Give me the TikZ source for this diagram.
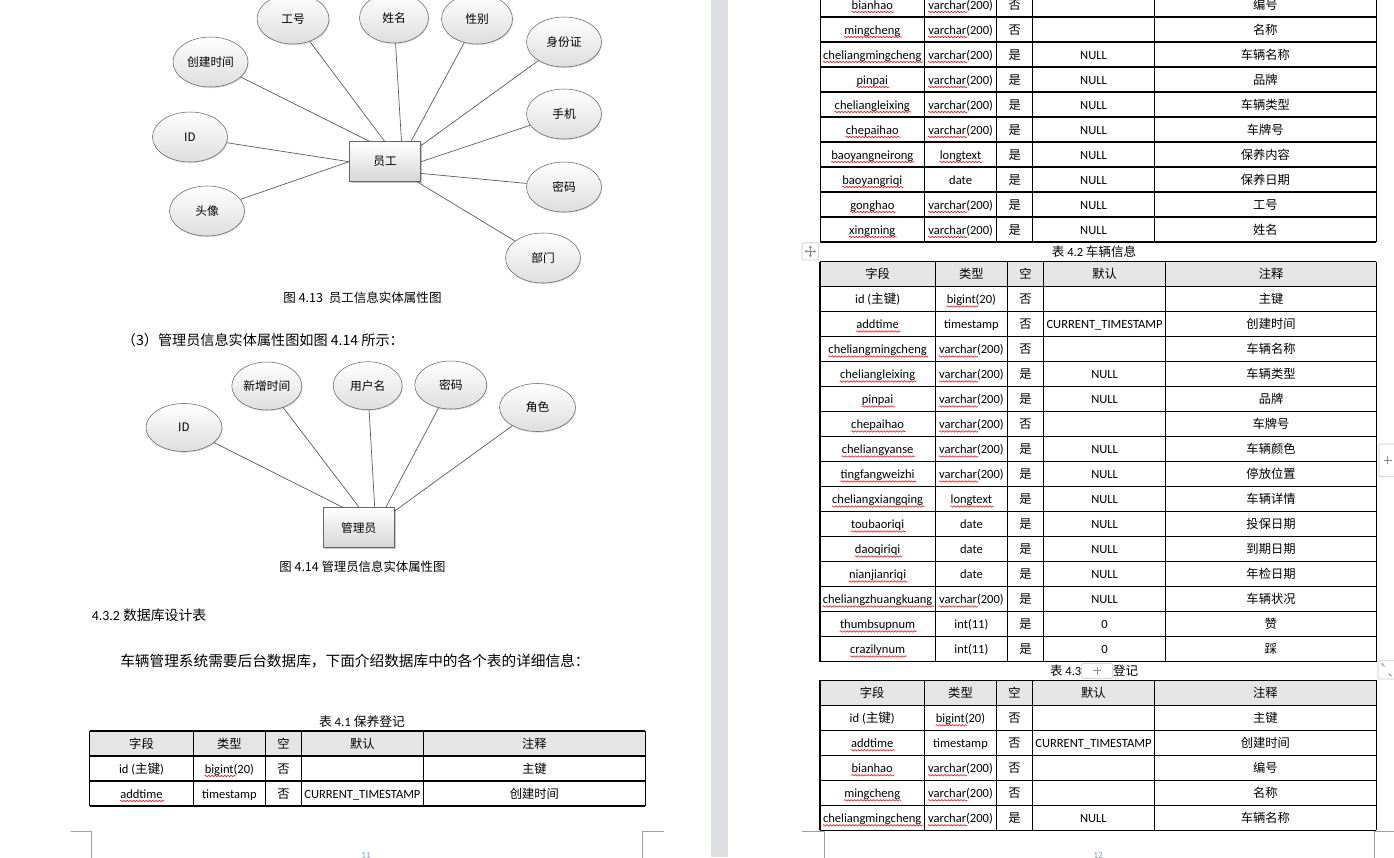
\documentclass[tikz,border=0pt]{standalone}
\usepackage{fontspec}
\setmainfont{Carlito}
\newfontfamily\cjk{Noto Sans CJK SC}
\usetikzlibrary{shapes.geometric,shadows,decorations.pathmorphing,calc,arrows.meta}

\definecolor{pagegap}{RGB}{222,223,226}
\definecolor{headgray}{RGB}{229,229,229}
\definecolor{marker}{RGB}{160,160,160}
\definecolor{pagenum}{RGB}{140,160,190}
\definecolor{linkgray}{RGB}{85,85,85}

\tikzset{
  attr/.style={ellipse, draw=black!60, line width=0.4pt, top color=white, bottom color=black!13,
    minimum width=56.25pt, minimum height=37.5pt, inner sep=0pt,
    font=\cjk\fontsize{8.8}{10}\selectfont,
    drop shadow={shadow xshift=0.5pt, shadow yshift=-0.8pt, opacity=0.3}},
  entity/.style={rectangle, draw=black!60, line width=0.5pt, top color=white, bottom color=black!16,
    minimum width=53.5pt, minimum height=30pt, inner sep=0pt,
    font=\cjk\fontsize{8.8}{10}\selectfont,
    drop shadow={shadow xshift=1.1pt, shadow yshift=-1.1pt, opacity=0.45}},
  link/.style={draw=linkgray, line width=0.5pt},
  cell/.style={anchor=base, inner sep=0.75pt, font=\fontsize{9.4}{11}\selectfont},
  zh/.style={cell, font=\cjk\fontsize{9.2}{11}\selectfont},
  rule/.style={draw=black, line width=0.8pt},
  typo/.style={draw=red, line width=0.4pt, decorate, decoration={snake, amplitude=0.55pt, segment length=2.4pt}},
  widget/.style={draw=black!22, fill=white, rounded corners=1pt, line width=0.5pt},
  widgetmark/.style={draw=black!45, line width=0.5pt},
  corner/.style={draw=marker, line width=0.6pt},
}

\begin{document}
\begin{tikzpicture}[x=0.75pt,y=0.75pt,yscale=-1,xscale=1]

\useasboundingbox (0,0) rectangle (1394,857);
\clip (0,0) rectangle (1394,857);
\fill[white] (0,0) rectangle (1394,857);
\fill[pagegap] (711,0) rectangle (728,857);

% figure 4.13
\node[entity] (emp) at (385,161.7) {员工};
\node[attr, minimum width=54pt] (gonghao) at (293,19) {工号};
\node[attr, minimum width=51.75pt] (xingming) at (394,18) {姓名};
\node[attr, minimum width=53.25pt] (xingbie) at (477,19) {性别};
\node[attr] (sfz) at (564,42) {身份证};
\node[attr] (cjsj) at (210.5,62) {创建时间};
\node[attr] (empid) at (190,137) {ID};
\node[attr] (shouji) at (564,114) {手机};
\node[attr] (mima) at (564,187) {密码};
\node[attr] (touxiang) at (207,211) {头像};
\node[attr] (bumen) at (543,258) {部门};

\draw[link] (gonghao) -- (emp.91);
\draw[link] (xingming) -- (emp.51);
\draw[link] (xingbie) -- (emp.38);
\draw[link] (sfz) -- (emp.24);
\draw[link] (cjsj) -- (emp.127);
\draw[link] (empid) -- (emp.west);
\draw[link] (touxiang) -- (emp.west);
\draw[link] (shouji) -- (emp.east);
\draw[link] (mima) -- (emp.-18);
\draw[link] (bumen) -- (emp.-32);

\node[font=\cjk\fontsize{9.4}{11}\selectfont] (cap413) at (362.5,297.7) {图 4.13\ \ 员工信息实体属性图};
\node[anchor=west, inner sep=0pt, font=\cjk\fontsize{10.6}{12}\selectfont] (para3) at (121.7,340) {（3）管理员信息实体属性图如图 4.14 所示：};

% figure 4.14
\node[entity, minimum width=53.25pt] (adm) at (358.8,527.7) {管理员};
\node[attr, minimum width=57pt, minimum height=36pt] (admid) at (184,427.5) {ID};
\node[attr, minimum width=52.5pt, minimum height=36pt] (xzsj) at (266.8,386) {新增时间};
\node[attr, minimum width=51.75pt, minimum height=36pt] (yhm) at (367.7,385.7) {用户名};
\node[attr, minimum width=54pt, minimum height=36pt] (admmm) at (450.8,385) {密码};
\node[attr, minimum width=57pt, minimum height=36pt] (juese) at (537.5,407.5) {角色};

\draw[link] (admid) -- (adm.128);
\draw[link] (xzsj) -- (adm.89);
\draw[link] (yhm) -- (adm.52);
\draw[link] (admmm) -- (adm.37);
\draw[link] (juese) -- (adm.25);

\node[font=\cjk\fontsize{9.3}{11}\selectfont] (cap414) at (362.5,566.7) {图 4.14 管理员信息实体属性图};

\node[anchor=west, inner sep=0pt, font=\fontsize{10.4}{12}\selectfont] (sec432) at (91.6,615) {4.3.2 {\cjk 数据库设计表}};
\node[anchor=west, inner sep=0pt, font=\cjk\fontsize{11}{13}\selectfont] (intro) at (120,661) {车辆管理系统需要后台数据库，下面介绍数据库中的各个表的详细信息：};

% table 4.1
\node[font=\fontsize{9.6}{11}\selectfont] (cap41) at (362,721.7) {{\cjk 表} 4.1 {\cjk 保养登记}};
\fill[headgray] (89.5,731) rectangle (645.4,756);
\foreach \y in {731,756,781,806} \draw[rule] (89.5,\y) -- (645.4,\y);
\foreach \x in {89.5,193.4,265.4,301.6,423.2,645.4} \draw[rule] (\x,731) -- (\x,806);
\path (141.5,748) node[zh] (by0a) {字段} (229.4,748) node[zh] (by0b) {类型} (283.5,748) node[zh] (by0c) {空} (362.4,748) node[zh] (by0d) {默认} (534.3,748) node[zh] (by0e) {注释};
\path (141.5,773) node[cell] (by1a) {id ({\cjk 主键})} (229.4,773) node[cell] (by1b) {bigint(20)} (283.5,773) node[zh] (by1c) {否} (534.3,773) node[zh] (by1e) {主键};
\path (141.5,798) node[cell] (by2a) {addtime} (229.4,798) node[cell] (by2b) {timestamp} (283.5,798) node[zh] (by2c) {否} (362.4,798) node[cell] (by2d) {CURRENT\_TIMESTAMP} (534.3,798) node[zh] (by2e) {创建时间};

% page corners, page 11
\draw[corner] (70.5,831) -- (91.6,831) -- (91.6,860);
\draw[corner] (664,831) -- (642,831) -- (642,860);
\node[anchor=north, inner sep=0pt, text=pagenum, font=\fontsize{7}{8}\selectfont] (pg11) at (366,852) {11};

% table 4.1 continued
\foreach \y in {17,42,...,242} \draw[rule] (820.2,\y) -- (1376.3,\y);
\foreach \x in {820.2,924.4,996.7,1032.6,1154.3,1376.3} \draw[rule] (\x,-10) -- (\x,242);
\path (872.3,9) node[cell] (by3a) {bianhao} (960.6,9) node[cell] (by3b) {varchar(200)} (1014.7,9) node[zh] (by3c) {否} (1265.3,9) node[zh] (by3e) {编号};
\path (872.3,34) node[cell] (by4a) {mingcheng} (960.6,34) node[cell] (by4b) {varchar(200)} (1014.7,34) node[zh] (by4c) {否} (1265.3,34) node[zh] (by4e) {名称};
\path (872.3,59) node[cell] (by5a) {cheliangmingcheng} (960.6,59) node[cell] (by5b) {varchar(200)} (1014.7,59) node[zh] (by5c) {是} (1093.5,59) node[cell] (by5d) {NULL} (1265.3,59) node[zh] (by5e) {车辆名称};
\path (872.3,84) node[cell] (by6a) {pinpai} (960.6,84) node[cell] (by6b) {varchar(200)} (1014.7,84) node[zh] (by6c) {是} (1093.5,84) node[cell] (by6d) {NULL} (1265.3,84) node[zh] (by6e) {品牌};
\path (872.3,109) node[cell] (by7a) {cheliangleixing} (960.6,109) node[cell] (by7b) {varchar(200)} (1014.7,109) node[zh] (by7c) {是} (1093.5,109) node[cell] (by7d) {NULL} (1265.3,109) node[zh] (by7e) {车辆类型};
\path (872.3,134) node[cell] (by8a) {chepaihao} (960.6,134) node[cell] (by8b) {varchar(200)} (1014.7,134) node[zh] (by8c) {是} (1093.5,134) node[cell] (by8d) {NULL} (1265.3,134) node[zh] (by8e) {车牌号};
\path (872.3,159) node[cell] (by9a) {baoyangneirong} (960.6,159) node[cell] (by9b) {longtext} (1014.7,159) node[zh] (by9c) {是} (1093.5,159) node[cell] (by9d) {NULL} (1265.3,159) node[zh] (by9e) {保养内容};
\path (872.3,184) node[cell] (by10a) {baoyangriqi} (960.6,184) node[cell] (by10b) {date} (1014.7,184) node[zh] (by10c) {是} (1093.5,184) node[cell] (by10d) {NULL} (1265.3,184) node[zh] (by10e) {保养日期};
\path (872.3,209) node[cell] (by11a) {gonghao} (960.6,209) node[cell] (by11b) {varchar(200)} (1014.7,209) node[zh] (by11c) {是} (1093.5,209) node[cell] (by11d) {NULL} (1265.3,209) node[zh] (by11e) {工号};
\path (872.3,234) node[cell] (by12a) {xingming} (960.6,234) node[cell] (by12b) {varchar(200)} (1014.7,234) node[zh] (by12c) {是} (1093.5,234) node[cell] (by12d) {NULL} (1265.3,234) node[zh] (by12e) {姓名};

% table 4.2
\draw[widget] (802,242.7) rectangle (818.7,260);
\draw[widgetmark, {Stealth[length=2pt,width=2.4pt]}-{Stealth[length=2pt,width=2.4pt]}] (804.6,251.3) -- (816.1,251.3);
\draw[widgetmark, {Stealth[length=2pt,width=2.4pt]}-{Stealth[length=2pt,width=2.4pt]}] (810.3,245.4) -- (810.3,257.3);
\node[font=\fontsize{9.4}{11}\selectfont] (cap42) at (1094,251.7) {{\cjk 表} 4.2 {\cjk 车辆信息}};
\fill[headgray] (820,261.5) rectangle (1376.3,286.5);
\foreach \y in {261.5,286.5,...,661.5} \draw[rule] (820,\y) -- (1376.3,\y);
\foreach \x in {820,935.2,1007.6,1043.5,1165.6,1376.3} \draw[rule] (\x,261.5) -- (\x,661.5);
\path (877.6,278.5) node[zh] (cl0a) {字段} (971.4,278.5) node[zh] (cl0b) {类型} (1025.6,278.5) node[zh] (cl0c) {空} (1104.6,278.5) node[zh] (cl0d) {默认} (1271,278.5) node[zh] (cl0e) {注释};
\path (877.6,303.5) node[cell] (cl1a) {id ({\cjk 主键})} (971.4,303.5) node[cell] (cl1b) {bigint(20)} (1025.6,303.5) node[zh] (cl1c) {否} (1271,303.5) node[zh] (cl1e) {主键};
\path (877.6,328.5) node[cell] (cl2a) {addtime} (971.4,328.5) node[cell] (cl2b) {timestamp} (1025.6,328.5) node[zh] (cl2c) {否} (1104.6,328.5) node[cell] (cl2d) {CURRENT\_TIMESTAMP} (1271,328.5) node[zh] (cl2e) {创建时间};
\path (877.6,353.5) node[cell] (cl3a) {cheliangmingcheng} (971.4,353.5) node[cell] (cl3b) {varchar(200)} (1025.6,353.5) node[zh] (cl3c) {否} (1271,353.5) node[zh] (cl3e) {车辆名称};
\path (877.6,378.5) node[cell] (cl4a) {cheliangleixing} (971.4,378.5) node[cell] (cl4b) {varchar(200)} (1025.6,378.5) node[zh] (cl4c) {是} (1104.6,378.5) node[cell] (cl4d) {NULL} (1271,378.5) node[zh] (cl4e) {车辆类型};
\path (877.6,403.5) node[cell] (cl5a) {pinpai} (971.4,403.5) node[cell] (cl5b) {varchar(200)} (1025.6,403.5) node[zh] (cl5c) {是} (1104.6,403.5) node[cell] (cl5d) {NULL} (1271,403.5) node[zh] (cl5e) {品牌};
\path (877.6,428.5) node[cell] (cl6a) {chepaihao} (971.4,428.5) node[cell] (cl6b) {varchar(200)} (1025.6,428.5) node[zh] (cl6c) {否} (1271,428.5) node[zh] (cl6e) {车牌号};
\path (877.6,453.5) node[cell] (cl7a) {cheliangyanse} (971.4,453.5) node[cell] (cl7b) {varchar(200)} (1025.6,453.5) node[zh] (cl7c) {是} (1104.6,453.5) node[cell] (cl7d) {NULL} (1271,453.5) node[zh] (cl7e) {车辆颜色};
\path (877.6,478.5) node[cell] (cl8a) {tingfangweizhi} (971.4,478.5) node[cell] (cl8b) {varchar(200)} (1025.6,478.5) node[zh] (cl8c) {是} (1104.6,478.5) node[cell] (cl8d) {NULL} (1271,478.5) node[zh] (cl8e) {停放位置};
\path (877.6,503.5) node[cell] (cl9a) {cheliangxiangqing} (971.4,503.5) node[cell] (cl9b) {longtext} (1025.6,503.5) node[zh] (cl9c) {是} (1104.6,503.5) node[cell] (cl9d) {NULL} (1271,503.5) node[zh] (cl9e) {车辆详情};
\path (877.6,528.5) node[cell] (cl10a) {toubaoriqi} (971.4,528.5) node[cell] (cl10b) {date} (1025.6,528.5) node[zh] (cl10c) {是} (1104.6,528.5) node[cell] (cl10d) {NULL} (1271,528.5) node[zh] (cl10e) {投保日期};
\path (877.6,553.5) node[cell] (cl11a) {daoqiriqi} (971.4,553.5) node[cell] (cl11b) {date} (1025.6,553.5) node[zh] (cl11c) {是} (1104.6,553.5) node[cell] (cl11d) {NULL} (1271,553.5) node[zh] (cl11e) {到期日期};
\path (877.6,578.5) node[cell] (cl12a) {nianjianriqi} (971.4,578.5) node[cell] (cl12b) {date} (1025.6,578.5) node[zh] (cl12c) {是} (1104.6,578.5) node[cell] (cl12d) {NULL} (1271,578.5) node[zh] (cl12e) {年检日期};
\path (877.6,603.5) node[cell] (cl13a) {cheliangzhuangkuang} (971.4,603.5) node[cell] (cl13b) {varchar(200)} (1025.6,603.5) node[zh] (cl13c) {是} (1104.6,603.5) node[cell] (cl13d) {NULL} (1271,603.5) node[zh] (cl13e) {车辆状况};
\path (877.6,628.5) node[cell] (cl14a) {thumbsupnum} (971.4,628.5) node[cell] (cl14b) {int(11)} (1025.6,628.5) node[zh] (cl14c) {是} (1104.6,628.5) node[cell] (cl14d) {0} (1271,628.5) node[zh] (cl14e) {赞};
\path (877.6,653.5) node[cell] (cl15a) {crazilynum} (971.4,653.5) node[cell] (cl15b) {int(11)} (1025.6,653.5) node[zh] (cl15c) {是} (1104.6,653.5) node[cell] (cl15d) {0} (1271,653.5) node[zh] (cl15e) {踩};

% table 4.3
\node[anchor=east, inner sep=0pt, font=\fontsize{9.4}{11}\selectfont] (cap43) at (1081.6,670.5) {{\cjk 表} 4.3};
\node[anchor=west, inner sep=0pt, font=\cjk\fontsize{9.4}{11}\selectfont] (cap43b) at (1112.8,670.5) {登记};
\draw[widget] (1081.6,663.3) rectangle (1112.8,678.3);
\draw[widgetmark] (1093,670.8) -- (1101.4,670.8) (1097.2,666.6) -- (1097.2,675);
\fill[headgray] (820,680.3) rectangle (1376.3,705.3);
\foreach \y in {680.3,705.3,...,830.3} \draw[rule] (820,\y) -- (1376.3,\y);
\foreach \x in {820,924.4,996.5,1032.3,1154.4,1376.3} \draw[rule] (\x,680.3) -- (\x,830.3);
\path (872.2,697.3) node[zh] (dj0a) {字段} (960.5,697.3) node[zh] (dj0b) {类型} (1014.4,697.3) node[zh] (dj0c) {空} (1093.4,697.3) node[zh] (dj0d) {默认} (1265.4,697.3) node[zh] (dj0e) {注释};
\path (872.2,722.3) node[cell] (dj1a) {id ({\cjk 主键})} (960.5,722.3) node[cell] (dj1b) {bigint(20)} (1014.4,722.3) node[zh] (dj1c) {否} (1265.4,722.3) node[zh] (dj1e) {主键};
\path (872.2,747.3) node[cell] (dj2a) {addtime} (960.5,747.3) node[cell] (dj2b) {timestamp} (1014.4,747.3) node[zh] (dj2c) {否} (1093.4,747.3) node[cell] (dj2d) {CURRENT\_TIMESTAMP} (1265.4,747.3) node[zh] (dj2e) {创建时间};
\path (872.2,772.3) node[cell] (dj3a) {bianhao} (960.5,772.3) node[cell] (dj3b) {varchar(200)} (1014.4,772.3) node[zh] (dj3c) {否} (1265.4,772.3) node[zh] (dj3e) {编号};
\path (872.2,797.3) node[cell] (dj4a) {mingcheng} (960.5,797.3) node[cell] (dj4b) {varchar(200)} (1014.4,797.3) node[zh] (dj4c) {否} (1265.4,797.3) node[zh] (dj4e) {名称};
\path (872.2,822.3) node[cell] (dj5a) {cheliangmingcheng} (960.5,822.3) node[cell] (dj5b) {varchar(200)} (1014.4,822.3) node[zh] (dj5c) {是} (1093.4,822.3) node[cell] (dj5d) {NULL} (1265.4,822.3) node[zh] (dj5e) {车辆名称};

% spelling marks
\foreach \n/\w in {by1b/0.63, by2a/1, by3a/1, by3b/0.6, by4a/1, by4b/0.6, by5a/1, by5b/0.6, by6a/1, by6b/0.6,
    by7a/1, by7b/0.6, by8a/1, by8b/0.6, by9a/1, by9b/1, by10a/1, by11a/1, by11b/0.6, by12a/1, by12b/0.6,
    cl1b/0.63, cl2a/1, cl3a/1, cl3b/0.6, cl4a/1, cl4b/0.6, cl5a/1, cl5b/0.6, cl6a/1, cl6b/0.6, cl7a/1, cl7b/0.6,
    cl8a/1, cl8b/0.6, cl9a/1, cl9b/1, cl10a/1, cl11a/1, cl12a/1, cl13a/1, cl13b/0.6, cl14a/1, cl15a/1,
    dj1b/0.63, dj2a/1, dj3a/1, dj3b/0.6, dj4a/1, dj4b/0.6, dj5a/1, dj5b/0.6}
  \draw[typo] ($(\n.base west)+(1,3)$) -- ($(\n.base west)!\w!(\n.base east)+(0,3)$);

% side widgets
\draw[widget] (1379,444) rectangle (1398,476.7);
\draw[widgetmark] (1383.5,460) -- (1391.5,460) (1387.5,456) -- (1387.5,464);
\draw[widget] (1378,660.7) rectangle (1398,679);
\draw[widgetmark, -{Stealth[length=1.6pt,width=1.8pt]}] (1384.6,666.4) -- (1381.4,663.4);
\draw[widgetmark, -{Stealth[length=1.6pt,width=1.8pt]}] (1388.4,673.4) -- (1391.6,676.4);

% page corners, page 12
\draw[corner] (801.5,831.7) -- (824,831.7) -- (824,860);
\draw[corner] (1396,831.7) -- (1374,831.7) -- (1374,860);
\node[anchor=north, inner sep=0pt, text=pagenum, font=\fontsize{7}{8}\selectfont] (pg12) at (1098,852) {12};

\end{tikzpicture}
\end{document}
